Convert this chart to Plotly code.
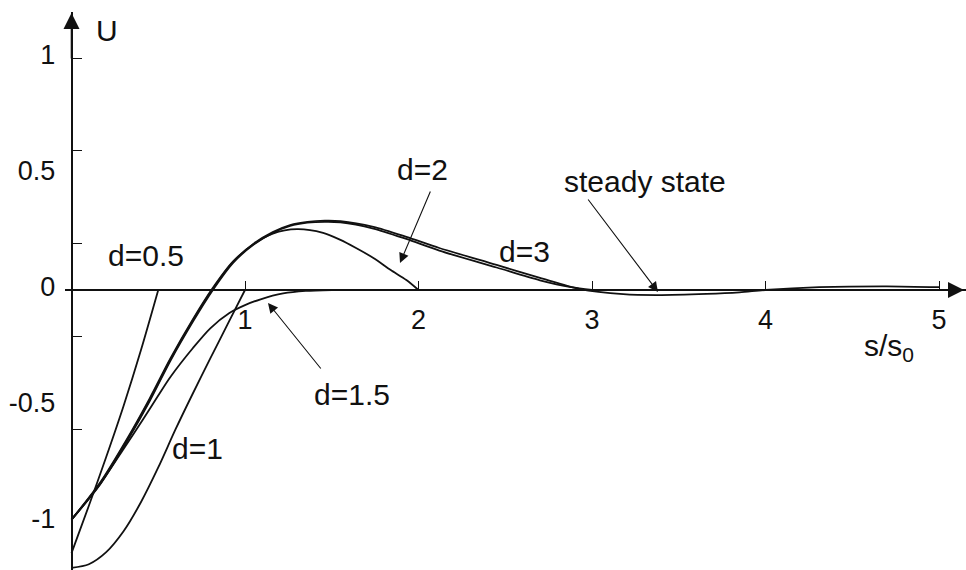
import plotly.graph_objects as go

# --- data (s/s0 -> U) ---
x_d05 = [0.0, 0.1, 0.2, 0.3, 0.4, 0.5]
u_d05 = [-1.134, -0.93, -0.72, -0.50, -0.26, 0.0]

x_d1 = [0.0, 0.1, 0.2, 0.3, 0.4, 0.5, 0.6, 0.7, 0.8, 0.9, 1.0]
u_d1 = [-1.198, -1.182, -1.13, -1.04, -0.915, -0.765, -0.60, -0.445, -0.295, -0.147, 0.0]

x_d15 = [0.0, 0.165, 0.30, 0.41, 0.50, 0.57, 0.70, 0.80, 0.91, 1.0, 1.09, 1.22, 1.35, 1.5]
u_d15 = [-0.99, -0.835, -0.685, -0.56, -0.455, -0.375, -0.25, -0.165, -0.099, -0.065, -0.04, -0.015, -0.004, 0.0]

x_d2 = [0.0, 0.165, 0.32, 0.45, 0.57, 0.70, 0.81, 0.93, 1.05, 1.16, 1.30, 1.45, 1.55, 1.64, 1.74, 1.84, 1.93, 2.0]
u_d2 = [-0.99, -0.83, -0.642, -0.468, -0.295, -0.126, 0.004, 0.122, 0.198, 0.243, 0.262, 0.246, 0.216, 0.181, 0.138, 0.086, 0.043, 0.0]

x_d3 = [0.0, 0.165, 0.32, 0.45, 0.57, 0.70, 0.81, 0.93, 1.05, 1.16, 1.26, 1.36, 1.46, 1.55, 1.74, 1.93, 2.12,
        2.45, 2.70, 2.88, 3.0]
u_d3 = [-0.99, -0.838, -0.652, -0.48, -0.305, -0.136, -0.005, 0.116, 0.196, 0.246, 0.276, 0.290, 0.294, 0.292,
        0.265, 0.22, 0.17, 0.097, 0.042, 0.012, 0.0]

x_ss = [0.0, 0.165, 0.32, 0.45, 0.57, 0.70, 0.81, 0.93, 1.05, 1.16, 1.26, 1.36, 1.46, 1.55, 1.74, 1.93, 2.12,
        2.45, 2.70, 2.93, 3.18, 3.37, 3.66, 3.85, 4.0, 4.31, 4.70, 5.0]
u_ss = [-0.99, -0.835, -0.647, -0.474, -0.30, -0.13, 0.0, 0.12, 0.20, 0.25, 0.28, 0.294, 0.299, 0.297, 0.272,
        0.229, 0.181, 0.108, 0.052, 0.004, -0.018, -0.022, -0.017, -0.01, 0.0, 0.012, 0.016, 0.012]

x_ticks = [1, 2, 3, 4, 5]
y_labels = [-1, -0.5, 0, 0.5, 1]
y_label_text = ["-1", "-0.5", "0", "0.5", "1"]
y_ticks = [-0.6, -0.2, 0.2, 0.6, 1]

# geometry (pixels of a 966x570 page)
W, H = 966, 570
X0_PX, PX_PER_X = 71.5, 173.5
Y0_PX, PX_PER_Y = 290.0, 232.0
X_LEFT_PX = 65
Y_TOP_PX = 12

x_range = [(X_LEFT_PX - X0_PX) / PX_PER_X, (W - X0_PX) / PX_PER_X]
y_range = [-(H - Y0_PX) / PX_PER_Y, (Y0_PX - Y_TOP_PX) / PX_PER_Y]

FONT = "Liberation Sans, Arial, sans-serif"
BLACK = "#111111"
TICK_SIZE = 27
LABEL_SIZE = 30

fig = go.Figure()

curves = [
    (x_d05, u_d05, "y2"),
    (x_d1, u_d1, "y"),
    (x_d15, u_d15, "y"),
    (x_d2, u_d2, "y"),
    (x_d3, u_d3, "y"),
    (x_ss, u_ss, "y"),
]
for xs, us, ya in curves:
    fig.add_trace(go.Scatter(
        x=xs, y=us, yaxis=ya, mode="lines",
        line=dict(color=BLACK, width=1.8, shape="spline", smoothing=0.8),
        hoverinfo="skip", showlegend=False,
    ))

fig.update_layout(
    width=W, height=H,
    margin=dict(l=0, r=0, t=0, b=0),
    plot_bgcolor="#ffffff", paper_bgcolor="#ffffff",
    font=dict(family=FONT, color=BLACK, size=LABEL_SIZE),
    xaxis=dict(
        domain=[X_LEFT_PX / W, 1], range=x_range,
        anchor="free", position=(H - Y0_PX) / H,
        showline=True, linecolor=BLACK, linewidth=1.6,
        ticks="inside", ticklen=8, tickwidth=1.2, tickcolor=BLACK,
        tickvals=x_ticks, ticktext=[str(v) for v in x_ticks],
        tickfont=dict(size=TICK_SIZE),
        ticklabelstandoff=6,
        showgrid=False, zeroline=False,
    ),
    yaxis=dict(
        domain=[0, (H - Y_TOP_PX) / H], range=y_range,
        anchor="free", position=X0_PX / W,
        showline=True, linecolor=BLACK, linewidth=1.6,
        ticks="", tickvals=y_labels, ticktext=y_label_text,
        tickfont=dict(size=TICK_SIZE),
        ticklabelstandoff=10, ticklabelshift=-3,
        showgrid=False, zeroline=False,
    ),
    yaxis2=dict(
        domain=[0, (H - Y_TOP_PX) / H], range=y_range,
        overlaying="y", anchor="free", position=X0_PX / W,
        showline=False, ticks="inside", ticklen=9, tickwidth=1.2, tickcolor=BLACK,
        tickvals=y_ticks, showticklabels=False,
        showgrid=False, zeroline=False,
    ),
)


def px_x(p):
    return (p - X0_PX) / PX_PER_X


def px_y(p):
    return (Y0_PX - p) / PX_PER_Y


# axis arrowheads
fig.add_annotation(x=px_x(964), y=0, ax=px_x(920), ay=0, xref="x", yref="y", axref="x", ayref="y",
                   text="", showarrow=True, arrowhead=2, arrowsize=2.0, arrowwidth=1.6, arrowcolor=BLACK)
fig.add_annotation(x=0, y=px_y(13), ax=0, ay=px_y(60), xref="x", yref="y", axref="x", ayref="y",
                   text="", showarrow=True, arrowhead=2, arrowsize=2.0, arrowwidth=1.6, arrowcolor=BLACK)

# axis titles
fig.add_annotation(x=px_x(107), y=px_y(31), text="U", showarrow=False, xref="x", yref="y")
fig.add_annotation(x=px_x(889), y=px_y(347), text="s/s<sub>0</sub>", showarrow=False, xref="x", yref="y")

# curve labels
labels = [
    ("d=0.5", 146, 256),
    ("d=1", 197, 448),
    ("d=1.5", 352, 394),
    ("d=2", 422, 170),
    ("d=3", 524, 252),
    ("steady state", 645, 182),
]
for txt, lx, ly in labels:
    fig.add_annotation(x=px_x(lx), y=px_y(ly), text=txt, showarrow=False, xref="x", yref="y")

# pointer arrows (head, tail)
pointers = [
    ((268, 303), (322, 370)),
    ((400, 263), (431, 190)),
    ((658, 292), (587, 198)),
]
for (hx, hy), (tx, ty) in pointers:
    fig.add_annotation(x=px_x(hx), y=px_y(hy), ax=px_x(tx), ay=px_y(ty),
                       xref="x", yref="y", axref="x", ayref="y",
                       text="", showarrow=True, arrowhead=2, arrowsize=1.8, arrowwidth=1.1,
                       arrowcolor=BLACK)

# the page's default body margin would shift the figure by 8px
fig.write_html("out.html", config={"displayModeBar": False},
               post_script="document.body.style.margin='0px';")
